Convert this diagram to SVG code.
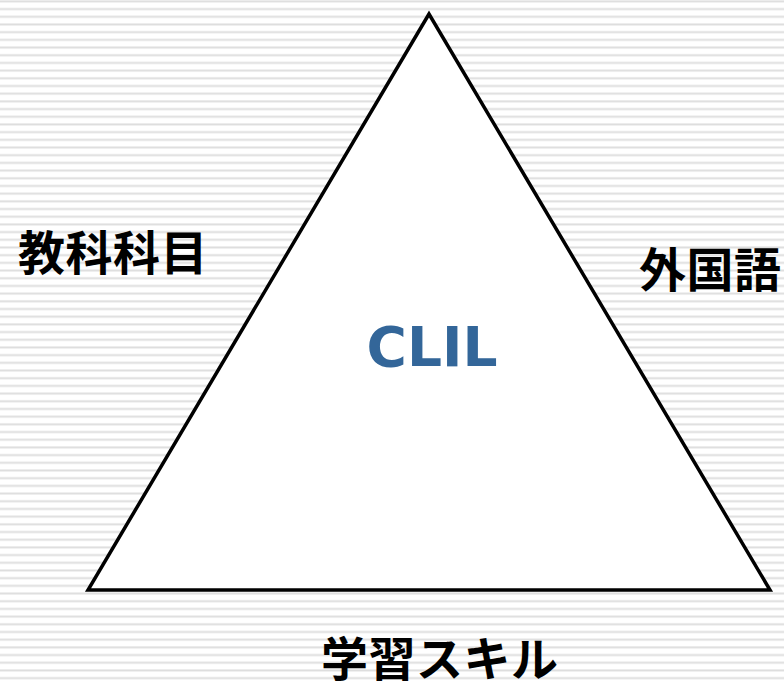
<svg xmlns="http://www.w3.org/2000/svg" width="784" height="681" viewBox="0 0 784 681">
<style>
.jp{font-family:"Noto Sans CJK JP","Noto Sans CJK SC",sans-serif;font-weight:bold;font-size:47px;letter-spacing:0.5px;fill:#000}
.clil{font-family:"DejaVu Sans",Verdana,sans-serif;font-weight:bold;font-size:55px;fill:#336699}
</style>
<defs>
<pattern id="stripes" x="0" y="0" width="784" height="7.69" patternUnits="userSpaceOnUse">
<rect x="0" y="0" width="784" height="7.69" fill="#ffffff"/>
<rect x="0" y="0.2" width="784" height="2.4" fill="#ececec"/>
<rect x="0" y="0.8" width="784" height="1.2" fill="#dedede"/>
</pattern>
</defs>
<rect width="784" height="681" fill="url(#stripes)"/>
<g id="triangle">
<polygon points="429,14 88,590 770,590" fill="#ffffff" stroke="#000000" stroke-width="3.5" stroke-linejoin="miter"/>
</g>
<g id="clil"><text class="clil" x="432" y="366" text-anchor="middle">CLIL</text></g>
<g id="subject"><text class="jp" x="18" y="270">教科科目</text></g>
<g id="language"><text class="jp" x="639" y="287">外国語</text></g>
<g id="skills"><text class="jp" x="321" y="676">学習スキル</text></g>
<g id="connectors"></g>
</svg>
